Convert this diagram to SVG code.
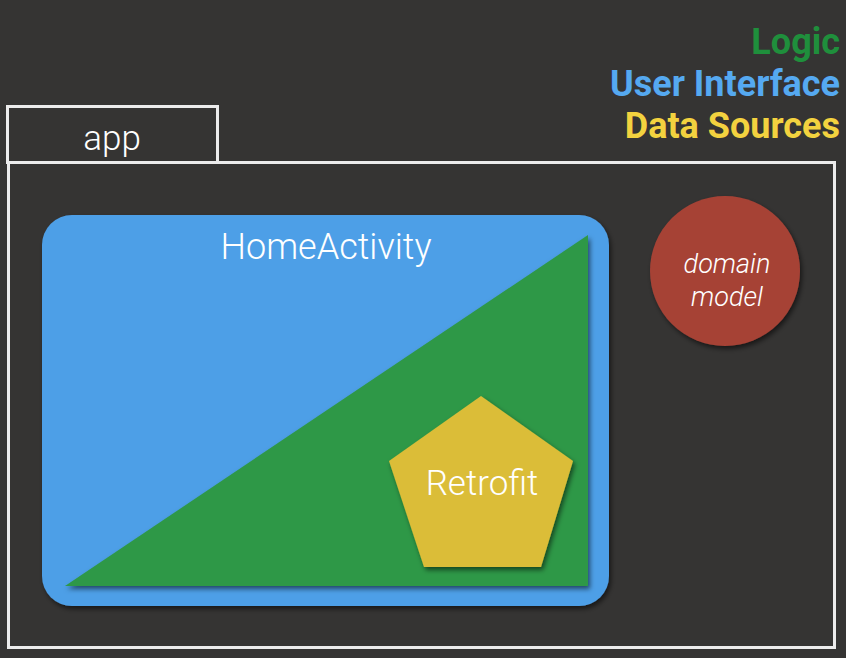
<svg xmlns="http://www.w3.org/2000/svg" width="846" height="658" viewBox="0 0 846 658">
<defs>
<filter id="sh" x="-10%" y="-10%" width="130%" height="130%">
<feGaussianBlur in="SourceAlpha" stdDeviation="2.5"/>
<feOffset dx="2" dy="3" result="b"/>
<feFlood flood-color="#000" flood-opacity="0.55"/>
<feComposite in2="b" operator="in"/>
<feMerge><feMergeNode/><feMergeNode in="SourceGraphic"/></feMerge>
</filter>
</defs>
<style>
.frame{fill:none;stroke:#ececec;stroke-width:3}
.lbl{font-family:Roboto,"Liberation Sans",sans-serif;font-weight:300;fill:#ffffff}
.leg{font-family:Roboto,"Liberation Sans",sans-serif;font-weight:700;font-size:36px;text-anchor:end}
</style>
<rect width="846" height="658" fill="#353433"/>
<g id="legend">
<text class="leg" x="840" y="54" fill="#1f8f3c">Logic</text>
<text class="leg" x="840" y="96" fill="#55a9f1">User Interface</text>
<text class="leg" x="840" y="138" fill="#f3d23f">Data Sources</text>
</g>
<g id="app">
<rect class="frame" x="7.5" y="106.5" width="210" height="56"/>
<rect class="frame" x="8.5" y="162.5" width="826" height="485"/>
<text class="lbl" x="112" y="150" font-size="35" text-anchor="middle">app</text>
</g>
<g id="HomeActivity">
<rect x="42" y="215" width="567" height="391" rx="30" fill="#4e9fe7" filter="url(#sh)"/>
<polygon points="65,586 588,235 588,586" fill="#2f9847" filter="url(#sh)"/>
<text class="lbl" x="326" y="259" font-size="36" text-anchor="middle">HomeActivity</text>
</g>
<g id="Retrofit">
<polygon points="481,396 573,461 541,567 424,567 389,461" fill="#dbbd37" filter="url(#sh)"/>
<text class="lbl" x="482" y="495" font-size="35" text-anchor="middle">Retrofit</text>
</g>
<g id="domain-model">
<circle cx="725" cy="271" r="75" fill="#a64236" filter="url(#sh)"/>
<text class="lbl" x="727" y="273" font-size="27" font-style="italic" text-anchor="middle">domain</text>
<text class="lbl" x="727" y="306" font-size="27" font-style="italic" text-anchor="middle">model</text>
</g>
<g id="connectors"/>
</svg>
